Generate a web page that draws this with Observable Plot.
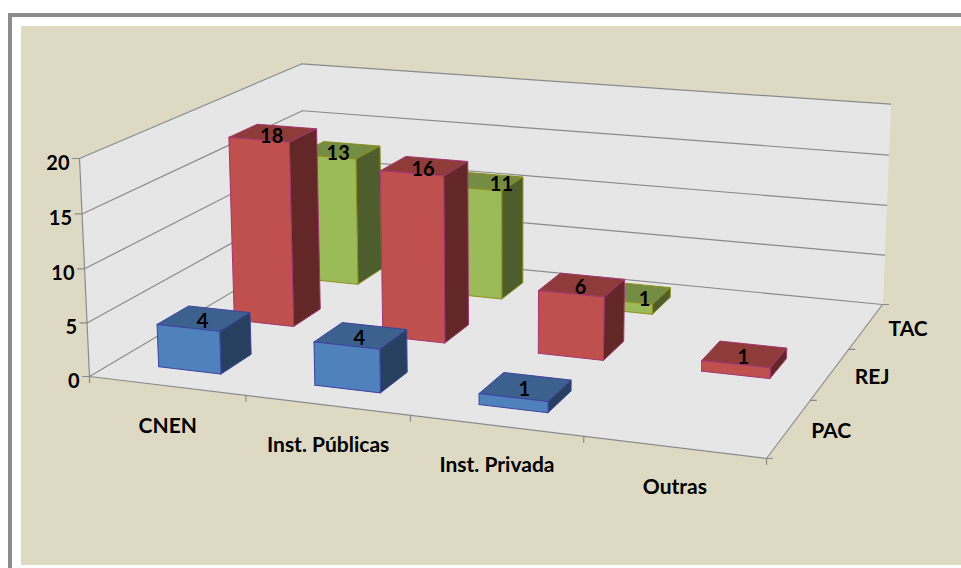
<!DOCTYPE html>
<html><head><meta charset="utf-8">
<style>
html,body{margin:0;padding:0;background:#fff;width:961px;height:568px;overflow:hidden}
#rule{position:absolute;left:7.5px;top:12.5px;right:0;bottom:0;border-left:4px solid #8c8c8c;border-top:4px solid #8c8c8c}
#panel{position:absolute;left:21px;top:26px;width:940px;height:539px;background:#ddd9c3}
#chart{position:absolute;left:0;top:0}
svg{display:block}
</style>
<script src="https://cdn.jsdelivr.net/npm/d3@7"></script>
<script src="https://cdn.jsdelivr.net/npm/@observablehq/plot@0.6"></script>
</head><body>
<div id="rule"></div><div id="panel"></div><div id="chart"></div>
<script>
const categories = ["CNEN", "Inst. Públicas", "Inst. Privada", "Outras"];
const seriesNames = ["PAC", "REJ", "TAC"];
const PAC = [4, 4, 1, 0];
const REJ = [18, 16, 6, 1];
const TAC = [13, 11, 1, 0];
const zTicks = [0, 5, 10, 15, 20];

const frontColors = ["#4f81bd", "#c0504d", "#9bbb59"];
const topColors = ["#3c618f", "#8f3b39", "#748c43"];
const sideColors = ["#27405f", "#622726", "#4e5d2c"];
const edgeColors = ["#3f42a0", "#a23674", "#8f8f1a"];
const gridColor = "#8a8a8a", wallColor = "#e6e6e6";

// perspective of the chart box
const corner = {p0:[89,376], p1:[766,458], p2:[882,304], p3:[305,248]};
const vanish = [509, 9534];
const topLeft = 158;

const {p0,p1,p2,p3} = corner;
const dx1=p1[0]-p2[0],dx2=p3[0]-p2[0],dx3=p0[0]-p1[0]+p2[0]-p3[0];
const dy1=p1[1]-p2[1],dy2=p3[1]-p2[1],dy3=p0[1]-p1[1]+p2[1]-p3[1];
const den=dx1*dy2-dx2*dy1;
const g=(dx3*dy2-dx2*dy3)/den,h=(dx1*dy3-dx3*dy1)/den;
const a=p1[0]-p0[0]+g*p1[0],b=p3[0]-p0[0]+h*p3[0],c=p0[0];
const d=p1[1]-p0[1]+g*p1[1],e=p3[1]-p0[1]+h*p3[1],f=p0[1];
const lambda=-(p0[1]-topLeft)/(vanish[1]-topLeft)/20;
function project(u,v,z){
  const s=u/categories.length,t=v/seriesNames.length;
  const W=g*s+h*t+1,k=z*lambda;
  return [(a*s+b*t+c+k*vanish[0])/(W+k),(d*s+e*t+f+k*vanish[1])/(W+k)];
}

const polys=[];
function poly(id,corners,fill,stroke){
  [...corners,corners[0]].forEach(q=>{const [x,y]=project(...q);polys.push({id,x,y,fill,stroke});});
}
const maxZ=zTicks[zTicks.length-1],nU=categories.length,nV=seriesNames.length;
poly("wallL",[[0,0,0],[0,nV,0],[0,nV,maxZ],[0,0,maxZ]],wallColor,wallColor);
poly("wallB",[[0,nV,0],[nU,nV,0],[nU,nV,maxZ],[0,nV,maxZ]],wallColor,wallColor);
poly("floor",[[0,0,0],[nU,0,0],[nU,nV,0],[0,nV,0]],wallColor,wallColor);

const rows=[PAC,REJ,TAC];
for(let j=nV-1;j>=0;j--){
  rows[j].forEach((val,i)=>{
    if(!val) return;
    const u0=i+.29,u1=i+.695,v0=j+.3,v1=j+.7,id=`b${j}-${i}`,s=edgeColors[j];
    poly(id+"t",[[u0,v0,val],[u1,v0,val],[u1,v1,val],[u0,v1,val]],topColors[j],s);
    poly(id+"r",[[u1,v0,0],[u1,v1,0],[u1,v1,val],[u1,v0,val]],sideColors[j],s);
    poly(id+"f",[[u0,v0,0],[u1,v0,0],[u1,v0,val],[u0,v0,val]],frontColors[j],s);
  });
}

const lines=[];
function seg(id,q0,q1,ox=0,oy=0){
  const A=project(...q0),B=project(...q1);
  lines.push({id,x:A[0],y:A[1]},{id,x:B[0]+ox,y:B[1]+oy});
}
zTicks.forEach(z=>{
  seg("gl"+z,[0,0,z],[0,nV,z]);
  seg("gb"+z,[0,nV,z],[nU,nV,z]);
  seg("tz"+z,[0,0,z],[0,0,z],-7,0);
});
seg("az",[0,0,0],[0,0,maxZ]);
seg("ax",[0,0,0],[nU,0,0]);
seg("ay",[nU,0,0],[nU,nV,0]);
for(let i=0;i<=nU;i++) seg("tu"+i,[i,0,0],[i,0,0],0,6);
for(let j=0;j<=nV;j++) seg("tv"+j,[nU,j,0],[nU,j,0],6,0);

// the chart's renderer pushes some labels off the centre of the bar top
const labelNudge = {"2-1":[20,0],"2-2":[15,4]};
const valueLabels=[];
rows.forEach((r,j)=>r.forEach((val,i)=>{
  if(!val) return;
  const [x,y]=project(i+.5,j+.5,val);
  const [nx,ny]=labelNudge[`${j}-${i}`]||[0,0];
  valueLabels.push({x:x-2.5+nx,y:y+3+ny,text:String(val)});
}));
const zLabels=zTicks.map(z=>{const [x,y]=project(0,0,z);return {x:x-10,y:y+5,text:String(z)};});
const catLabels=categories.map((n,i)=>{const [x,y]=project(i+.5,0,0);return {x:x+1,y:y+40,text:n};});
const serLabels=seriesNames.map((n,j)=>{const [x,y]=project(nU,j+.5,0);return {x:x+42,y:y+3,text:n};});

const font={fontFamily:"Lato, Carlito, sans-serif",fontWeight:700,fontSize:21,fill:"#000"};
const chart=Plot.plot({
  width:961,height:568,margin:0,
  style:{background:"transparent"},
  x:{domain:[0,961],range:[0,961],axis:null},
  y:{domain:[0,568],range:[0,568],axis:null},
  color:{type:"identity"},
  marks:[
    Plot.line(polys.filter(p=>!p.id.startsWith("b")),{x:"x",y:"y",z:"id",fill:"fill",stroke:"stroke",strokeWidth:1}),
    Plot.line(lines,{x:"x",y:"y",z:"id",stroke:gridColor,strokeWidth:1.2}),
    Plot.line(polys.filter(p=>p.id.startsWith("b")),{x:"x",y:"y",z:"id",fill:"fill",stroke:"stroke",strokeWidth:1}),
    Plot.text(valueLabels,{x:"x",y:"y",text:"text",...font,fontSize:20}),
    Plot.text(zLabels,{x:"x",y:"y",text:"text",textAnchor:"end",...font,fontSize:20}),
    Plot.text(catLabels,{x:"x",y:"y",text:"text",...font}),
    Plot.text(serLabels,{x:"x",y:"y",text:"text",...font})
  ]
});
document.getElementById("chart").appendChild(chart);
</script>
</body></html>
